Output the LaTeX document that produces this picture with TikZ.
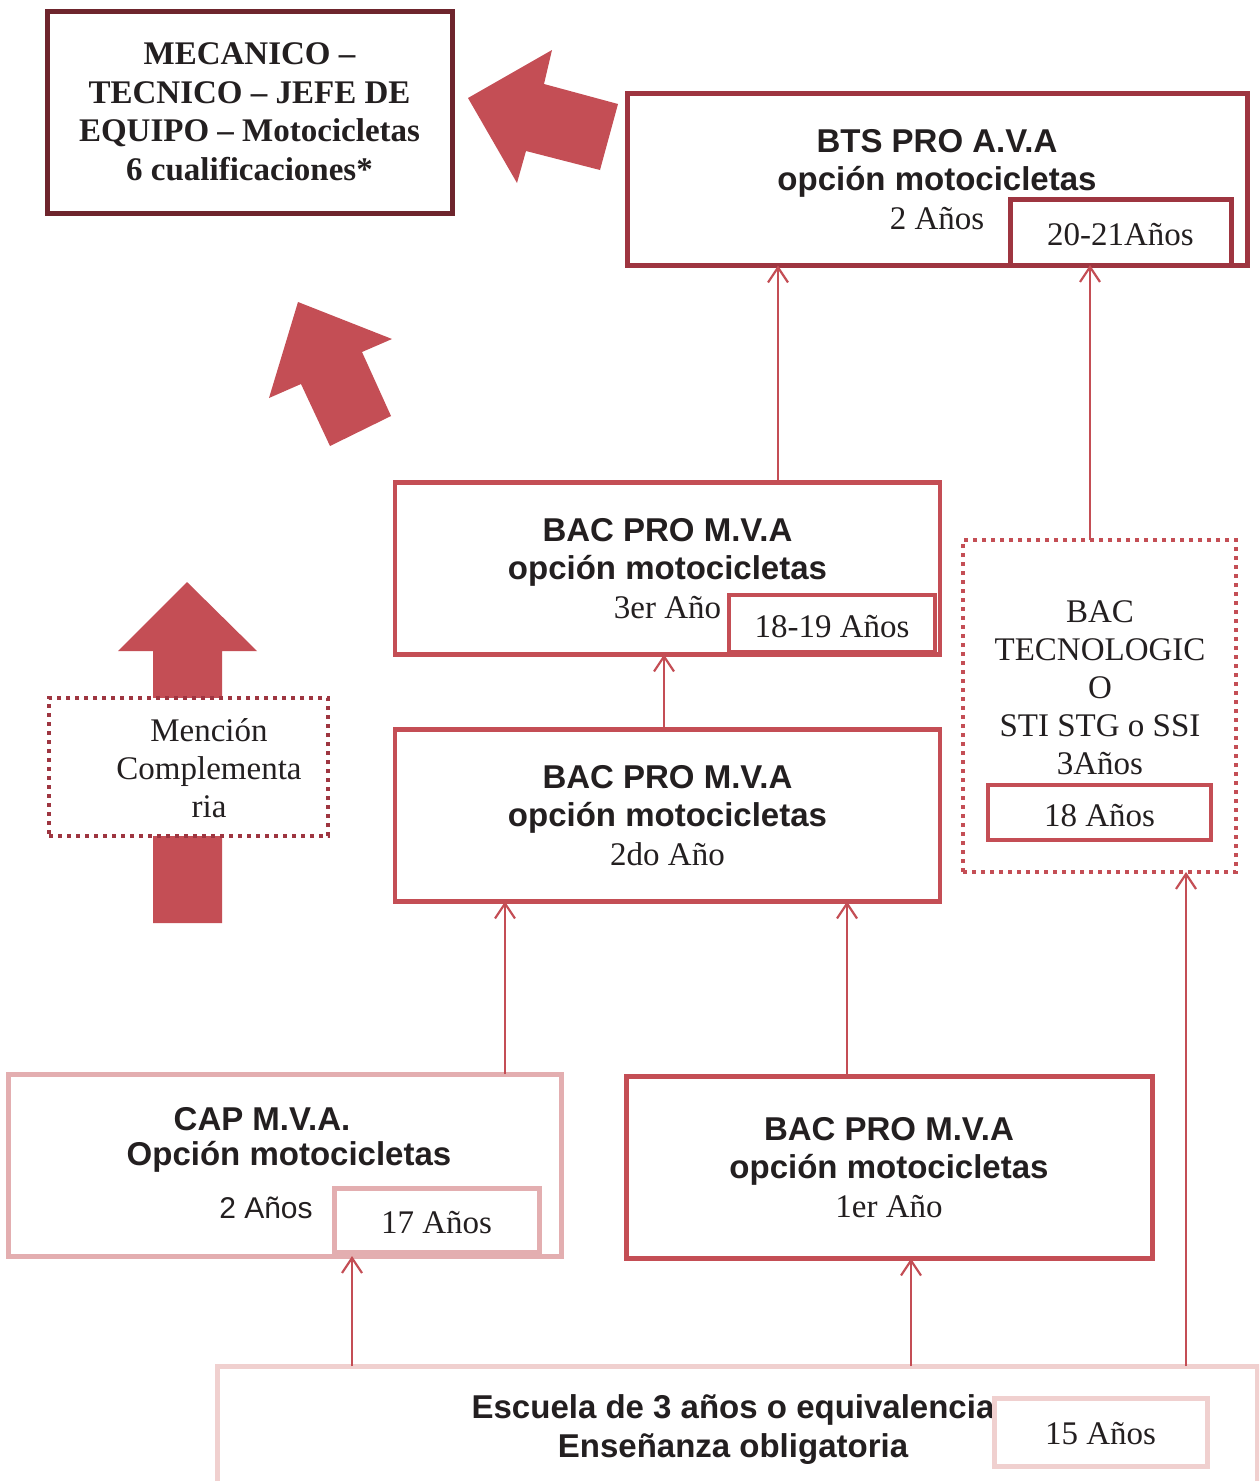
\documentclass[tikz,border=0pt]{standalone}
\usepackage{fontspec}
\setmainfont{Liberation Serif}
\newfontfamily\sansf{Liberation Sans}
\usetikzlibrary{arrows.meta}
\definecolor{maroon}{HTML}{6E252D}
\definecolor{btsred}{HTML}{9E3540}
\definecolor{redA}{HTML}{C44E55}
\definecolor{cappink}{HTML}{E3AEB0}
\definecolor{escpink}{HTML}{F0D0CF}
\definecolor{txt}{HTML}{231F20}
\newcommand\tsans{\sansf\bfseries\fontsize{33}{38.5}\selectfont}
\newcommand\tsansr{\sansf\fontsize{30}{38}\selectfont}
\newcommand\tser{\rmfamily\mdseries\fontsize{33}{38}\selectfont}
\newcommand\tserb{\rmfamily\bfseries\fontsize{33}{38.5}\selectfont}
\newcommand\lowr[2][-3pt]{\raisebox{#1}[\height][\depth]{#2}}
\begin{document}
\begin{tikzpicture}[x=1pt,y=-1pt,
  tbox/.style={draw, fill=white, inner sep=0pt, outer sep=0pt, text=txt, align=center},
  dotbox/.style={tbox, line width=4pt, dash pattern=on 4pt off 5pt},
  lbl/.style={inner sep=0pt, text=txt, align=center},
  conn/.style={draw=redA, line width=2.2pt, -{Straight Barb[length=15pt,width=20pt,line width=2.2pt]}},
  bigarrow/.style={fill=redA}]
\useasboundingbox (0,0) rectangle (1259,1481);
\clip (0,0) rectangle (1259,1481);
\fill[white] (0,0) rectangle (1259,1481);

% big block arrows
\fill[bigarrow] (468,98) -- (552,50) -- (544,84) -- (618,104) -- (600,170) -- (526,151) -- (517,183) -- cycle;
\fill[bigarrow] (298,302) -- (392,339) -- (362,352) -- (391,416) -- (330,446) -- (301,384) -- (269,398) -- cycle;
\fill[bigarrow] (187,582) -- (257,651) -- (222,651) -- (222,923) -- (153,923) -- (153,651) -- (118,651) -- cycle;

% top-left box
\node[tbox, draw=maroon, line width=5pt, minimum width=405pt, minimum height=202pt, font=\tserb] (mec) at (249.5,112)
  {MECANICO –\\TECNICO – JEFE DE\\EQUIPO – Motocicletas\\6 cualificaciones*};

% BTS
\node[tbox, draw=btsred, line width=5pt, minimum width=620pt, minimum height=172pt, font=\tsans] (bts) at (937,179.5)
  {BTS PRO A.V.A\\opción motocicletas\\{\tser 2 Años}};
\node[tbox, draw=btsred, line width=5pt, minimum width=221pt, minimum height=66pt, font=\tser] (bts20) at (1120.5,232) {\lowr{20-21Años}};

% BAC PRO 3er
\node[tbox, draw=redA, line width=4.5pt, minimum width=545pt, minimum height=172pt, font=\tsans] (bac3) at (667.5,568.5)
  {BAC PRO M.V.A\\opción motocicletas\\{\tser 3er Año}};
\node[tbox, draw=redA, line width=4.5pt, minimum width=206pt, minimum height=57pt, font=\tser] (bac3y) at (832,623.5) {\lowr{18-19 Años}};

% BAC PRO 2do
\node[tbox, draw=redA, line width=4.5pt, minimum width=545pt, minimum height=172pt, font=\tsans] (bac2) at (667.5,815.5)
  {BAC PRO M.V.A\\opción motocicletas\\{\tser 2do Año}};

% BAC PRO 1er
\node[tbox, draw=redA, line width=5pt, minimum width=526pt, minimum height=182pt, font=\tsans] (bac1) at (889,1167.5)
  {BAC PRO M.V.A\\opción motocicletas\\{\tser 1er Año}};

% Mencion complementaria
\node[dotbox, draw=btsred, minimum width=279pt, minimum height=138pt] (men) at (188.5,767) {};
\node[lbl, font=\tser] (mentxt) at (209,768) {Mención\\Complementa\\ria};

% BAC tecnologico
\node[dotbox, draw=redA, minimum width=273pt, minimum height=332pt] (bactec) at (1099.5,706) {};
\node[lbl, font=\tser] (bactectxt) at (1100,687.5) {BAC\\TECNOLOGIC\\O\\STI STG o SSI\\3Años};
\node[tbox, draw=redA, line width=4.5pt, minimum width=223pt, minimum height=55pt, font=\tser] (bactec18) at (1099.5,812.5) {\lowr{18 Años}};

% CAP
\node[tbox, draw=cappink, line width=5pt, minimum width=553pt, minimum height=182pt] (cap) at (284.5,1165) {};
\node[lbl, font=\tsans] (captxt1) at (262,1119) {CAP M.V.A.};
\node[lbl, font=\tsans] (captxt2) at (289,1157) {Opción motocicletas};
\node[lbl, font=\tsansr] (captxt3) at (266,1208) {2 Años};
\node[tbox, draw=cappink, line width=5pt, minimum width=205pt, minimum height=64pt, font=\tser] (cap17) at (436.5,1220) {\lowr{17 Años}};

% Escuela
\node[tbox, draw=escpink, line width=5pt, minimum width=1040pt, minimum height=200pt] (esc) at (737,1466) {};
\node[lbl, font=\tsans] (esctxt) at (733,1429.5) {Escuela de 3 años o equivalencia\\Enseñanza obligatoria};
\node[tbox, draw=escpink, line width=5pt, minimum width=213pt, minimum height=68pt, font=\tser] (esc15) at (1100.5,1432) {\lowr[-2pt]{15 Años}};

% connectors
\draw[conn] (bac3.north -| 778,0) -- (bts.south -| 778,0);
\draw[conn] (bactec.north -| 1090,0) -- (bts20.south -| 1090,0);
\draw[conn] (bac2.north -| 664,0) -- (bac3.south -| 664,0);
\draw[conn] (cap.north -| 505,0) -- (bac2.south -| 505,0);
\draw[conn] (bac1.north -| 847,0) -- (bac2.south -| 847,0);
\draw[conn] (esc.north -| 352,0) -- (cap.south -| 352,0);
\draw[conn] (esc.north -| 911,0) -- (bac1.south -| 911,0);
\draw[conn] (esc.north -| 1186,0) -- (bactec.south -| 1186,0);
\end{tikzpicture}
\end{document}
